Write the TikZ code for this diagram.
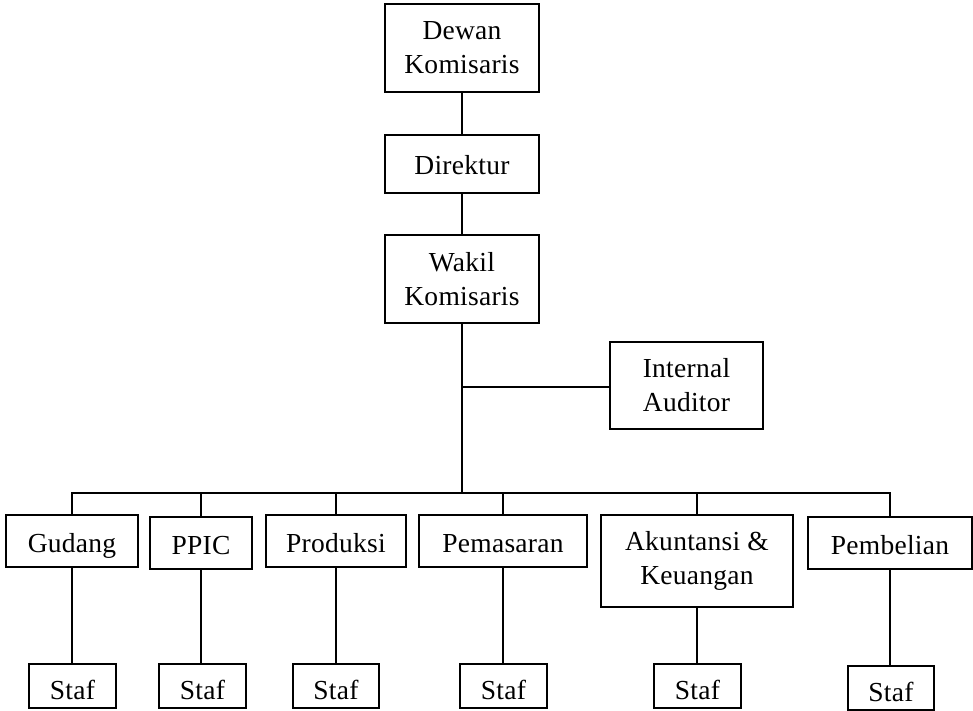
\documentclass[tikz,border=0pt]{standalone}
\usepackage{fontspec}
\newfontfamily\boxfont{Liberation Serif}[LetterSpace=1]
\begin{document}
\begin{tikzpicture}[x=1pt,y=-1pt,
  box/.style={draw=black,line width=1.7pt,inner sep=0pt,align=center,
    font=\boxfont\fontsize{27.5}{34}\selectfont},
  one/.style={text height=22pt,text depth=0pt},
  staf/.style={box,text height=26pt,text depth=0pt,minimum height=44pt},
  conn/.style={draw=black,line width=1.7pt}]
\useasboundingbox (0,0) rectangle (973,711);
\fill[white] (0,0) rectangle (973,711);
% top chain
\node[box,minimum width=154pt,minimum height=88pt] (dewan) at (462,48) {Dewan\\Komisaris};
\node[box,one,minimum width=154pt,minimum height=58pt] (direktur) at (462,164) {Direktur};
\node[box,minimum width=154pt,minimum height=88pt] (wakil) at (462,279) {Wakil\\Komisaris};
\node[box,minimum width=153pt,minimum height=87pt] (auditor) at (686.5,385.5) {Internal\\Auditor};
% departments
\node[box,one,minimum width=132pt,minimum height=52pt] (gudang) at (72,541) {Gudang};
\node[box,one,minimum width=102pt,minimum height=52pt] (ppic) at (201,543) {PPIC};
\node[box,one,minimum width=140pt,minimum height=52pt] (produksi) at (336,541) {Produksi};
\node[box,one,minimum width=168pt,minimum height=52pt] (pemasaran) at (503,541) {Pemasaran};
\node[box,minimum width=192pt,minimum height=92pt] (akuntansi) at (697,561) {Akuntansi \&\\Keuangan};
\node[box,one,minimum width=164pt,minimum height=52pt] (pembelian) at (890,543) {Pembelian};
% staff
\node[staf,minimum width=87pt] (s1) at (72.5,686) {Staf};
\node[staf,minimum width=87pt] (s2) at (202.5,686) {Staf};
\node[staf,minimum width=86pt] (s3) at (336,686) {Staf};
\node[staf,minimum width=87pt] (s4) at (503.5,686) {Staf};
\node[staf,minimum width=87pt] (s5) at (697.5,686) {Staf};
\node[staf,minimum width=86pt] (s6) at (891,688) {Staf};
% coordinates
\coordinate (bus) at (462,493);
\coordinate (aj) at (462,387);
% connectors
\draw[conn] (dewan.south) -- (dewan.south |- direktur.north);
\draw[conn] (direktur.south) -- (wakil.north);
\draw[conn] (wakil.south) -- (bus);
\draw[conn] (aj) -- (aj -| auditor.west);
\draw[conn] (gudang.north) -- (gudang.north |- bus) -- (pembelian.north |- bus) -- (pembelian.north);
\draw[conn] (ppic.north) -- (ppic.north |- bus);
\draw[conn] (produksi.north) -- (produksi.north |- bus);
\draw[conn] (pemasaran.north) -- (pemasaran.north |- bus);
\draw[conn] (akuntansi.north) -- (akuntansi.north |- bus);
\draw[conn] (gudang.south) -- (gudang.south |- s1.north);
\draw[conn] (ppic.south) -- (ppic.south |- s2.north);
\draw[conn] (produksi.south) -- (produksi.south |- s3.north);
\draw[conn] (pemasaran.south) -- (pemasaran.south |- s4.north);
\draw[conn] (akuntansi.south) -- (akuntansi.south |- s5.north);
\draw[conn] (pembelian.south) -- (pembelian.south |- s6.north);
\end{tikzpicture}
\end{document}
